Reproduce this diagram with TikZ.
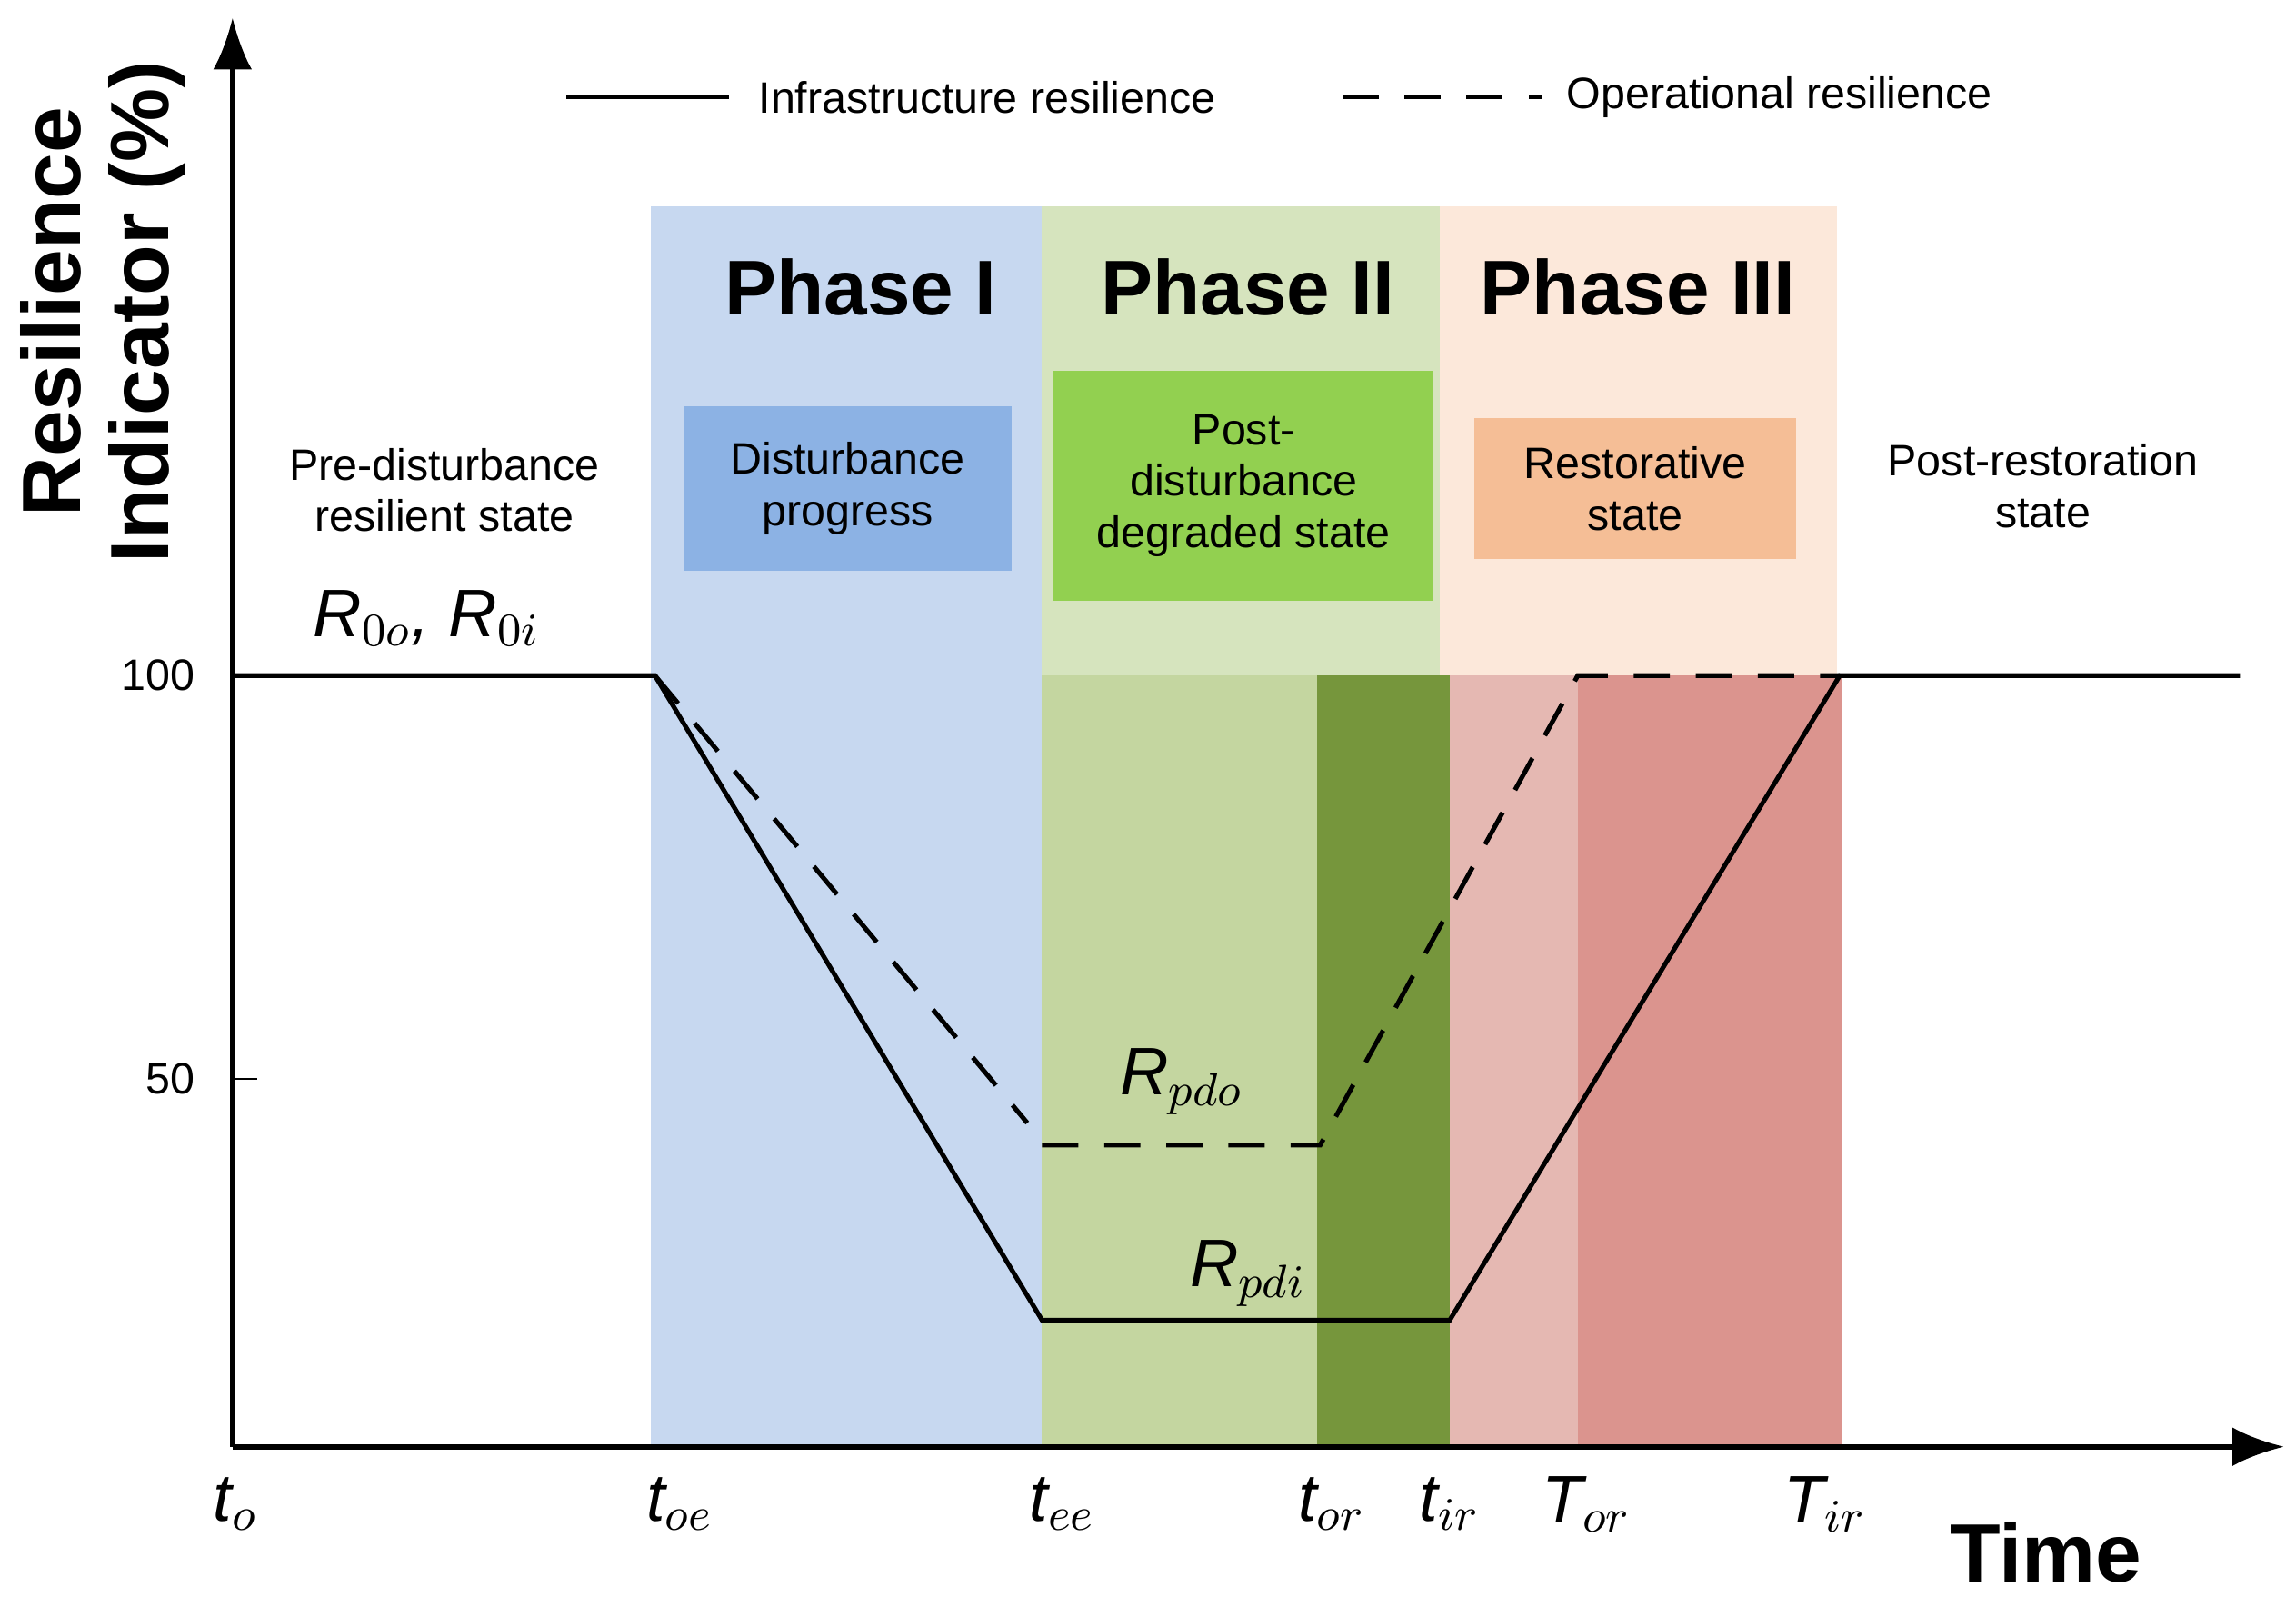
\documentclass[tikz,border=0pt]{standalone}
\usepackage{fontspec}
\setmainfont{Liberation Sans}
\usepackage{tikz}
\usetikzlibrary{arrows.meta}
\definecolor{phaseA}{RGB}{199,216,240}
\definecolor{phaseB}{RGB}{214,228,190}
\definecolor{phaseBlow}{RGB}{196,214,160}
\definecolor{phaseBdark}{RGB}{118,150,60}
\definecolor{phaseC}{RGB}{252,232,218}
\definecolor{phaseClow}{RGB}{229,184,178}
\definecolor{phaseCdark}{RGB}{219,148,142}
\definecolor{boxA}{RGB}{140,178,228}
\definecolor{boxB}{RGB}{146,208,80}
\definecolor{boxC}{RGB}{245,190,150}
\tikzstyle{label} = [text centered, font=\fontsize{8.5}{10}\selectfont, align=center]
\tikzstyle{title} = [font=\fontsize{15}{18}\selectfont\bfseries]
\tikzstyle{stateBox} = [rectangle, text centered, align=center, font=\fontsize{8.5}{10}\selectfont]
\tikzstyle{tick} = [font=\fontsize{13}{14}\selectfont\itshape]
\tikzstyle{infra} = [draw, line width=0.9pt]
\tikzstyle{oper} = [draw, line width=0.9pt, dash pattern=on 7pt off 5pt]

\begin{document}
\begin{tikzpicture}[x=0.01cm, y=-0.01cm]
\useasboundingbox (0,0) rectangle (1560,1085);

% phases
\fill[phaseA] (442,140) rectangle (708,983);
\fill[phaseB] (708,140) rectangle (978,459);
\fill[phaseBlow] (708,459) rectangle (895,983);
\fill[phaseBdark] (895,459) rectangle (985,983);
\fill[phaseC] (978,140) rectangle (1248,459);
\fill[phaseClow] (985,459) rectangle (1072,983);
\fill[phaseCdark] (1072,459) rectangle (1252,983);

\node[title] at (585,195) (phaseOne) {Phase I};
\node[title] at (848,195) (phaseTwo) {Phase II};
\node[title] at (1113,195) (phaseThree) {Phase III};

\node[stateBox, fill=boxA, minimum width=2.23cm, minimum height=1.12cm] at (576,332) (disturb) {Disturbance\\progress};
\node[stateBox, fill=boxB, minimum width=2.58cm, minimum height=1.56cm] at (845,330) (degraded) {Post-\\disturbance\\degraded state};
\node[stateBox, fill=boxC, minimum width=2.18cm, minimum height=0.96cm] at (1111,332) (restore) {Restorative\\state};

\node[label] at (302,333) (preState) {Pre-disturbance\\resilient state};
\node[label] at (1388,330) (postState) {Post-restoration\\state};

% axes
\draw[line width=1pt, -{Latex[length=10pt]}] (158,983) -- (158,12);
\draw[line width=1pt, -{Latex[length=10pt]}] (158,983) -- (1552,983);
\draw (158,459) -- (175,459);
\draw (158,733) -- (175,733);
\node[label, anchor=east] at (145,459) (hundred) {100};
\node[label, anchor=east] at (145,733) (fifty) {50};
\node[rotate=90, align=center, font=\fontsize{16}{17}\selectfont\bfseries] at (70,212) (yLabel) {Resilience\\Indicator (\%)};
\node[font=\fontsize{16}{18}\selectfont\bfseries] at (1390,1055) (time) {Time};

% legend
\draw[infra] (385,66) -- (495,66);
\node[label, anchor=west] at (503,66) (legInfra) {Infrastructure resilience};
\draw[oper] (912,66) -- (1048,66);
\node[label, anchor=west] at (1052,66) (legOper) {Operational resilience};

% curves
\draw[infra] (158,459) -- (445,459) -- (708,897) -- (985,897) -- (1250,459) -- (1522,459);
\draw[oper] (445,459) -- (698,763);
\draw[oper] (708,778) -- (897,778) -- (1072,459) -- (1250,459);

\node[tick] at (290,420) (rZero) {R$_{0o}$, R$_{0i}$};
\node[tick] at (803,735) (rPdo) {R$_{pdo}$};
\node[tick] at (848,865) (rPdi) {R$_{pdi}$};

% time marks
\node[tick] at (160,1022) (tO) {t$_o$};
\node[tick] at (462,1022) (tOe) {t$_{oe}$};
\node[tick] at (722,1022) (tEe) {t$_{ee}$};
\node[tick] at (905,1022) (tOr) {t$_{or}$};
\node[tick] at (985,1022) (tIr) {t$_{ir}$};
\node[tick] at (1078,1022) (bigTOr) {T$_{or}$};
\node[tick] at (1240,1022) (bigTIr) {T$_{ir}$};

\end{tikzpicture}
\end{document}
